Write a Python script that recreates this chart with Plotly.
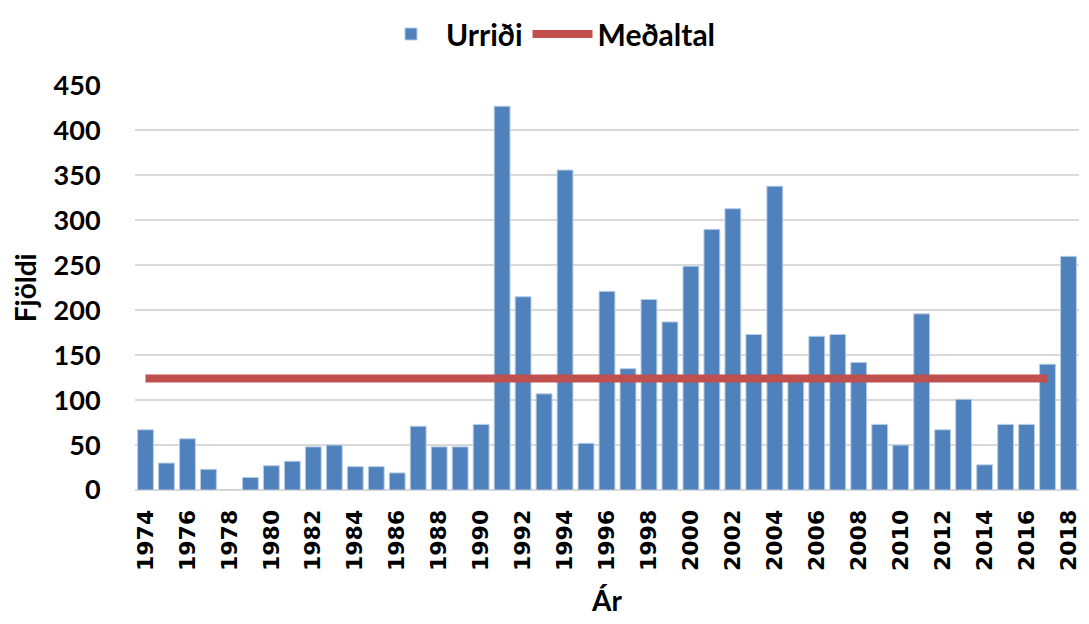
import plotly.graph_objects as go

years = list(range(1974, 2019))
urridi = [67, 30, 57, 23, 0, 14, 27, 32, 48, 50, 26, 26, 19, 71, 48, 48,
          73, 427, 215, 107, 356, 52, 221, 135, 212, 187, 249, 290, 313, 173, 338,
          122, 171, 173, 142, 73, 50, 196, 67, 101, 28, 73, 73, 140, 260]
mean_years = list(range(1974, 2018))
medaltal_value = 124
medaltal = [medaltal_value] * len(mean_years)
tick_years = list(range(1974, 2019, 2))
y_ticks = list(range(0, 451, 50))

calibri_like = "Lato, 'Open Sans', sans-serif"

fig = go.Figure()
fig.add_trace(go.Bar(
    x=years, y=urridi, name="Urriði",
    marker=dict(color="#4f81bd", line=dict(color="#b9cde5", width=1)),
))
fig.add_trace(go.Scatter(
    x=mean_years, y=medaltal, name="Meðaltal", mode="lines",
    line=dict(color="#c0504d", width=8),
))

# page body has an 8px margin, so the figure is sized 8px smaller
fig.update_layout(
    width=1081, height=616,
    margin=dict(l=121, r=8, t=76, b=134),
    plot_bgcolor="white", paper_bgcolor="white",
    bargap=0.245,
    font=dict(family=calibri_like, color="black"),
    legend=dict(orientation="h", x=0.5, xanchor="center", xref="container",
                y=1.0, yanchor="top", yref="container",
                font=dict(size=30, family=calibri_like, weight="bold"),
                itemwidth=60, traceorder="normal"),
    showlegend=True,
)

fig.update_xaxes(
    range=[1973.5, 2018.5],
    tickmode="array", tickvals=tick_years, ticktext=[str(y) for y in tick_years],
    tickangle=-90,
    tickfont=dict(family="DejaVu Sans", size=22, weight="bold", color="black"),
    showgrid=False, showline=False, zeroline=False,
    ticks="outside", ticklen=10, tickcolor="rgba(0,0,0,0)",
    title=dict(text="Ár", font=dict(family=calibri_like, size=28, weight="bold"), standoff=21),
)
fig.update_yaxes(
    range=[0, 450],
    tickmode="array", tickvals=y_ticks,
    tickfont=dict(family=calibri_like, size=27, weight="bold", color="black"),
    showgrid=True, gridcolor="#d9d9d9", gridwidth=2,
    zeroline=True, zerolinecolor="#d9d9d9", zerolinewidth=2,
    showline=False,
    ticks="outside", ticklen=28, tickcolor="rgba(0,0,0,0)",
    title=dict(text="Fjöldi", font=dict(family=calibri_like, size=28, weight="bold"), standoff=18),
)

fig.write_html("out.html")
